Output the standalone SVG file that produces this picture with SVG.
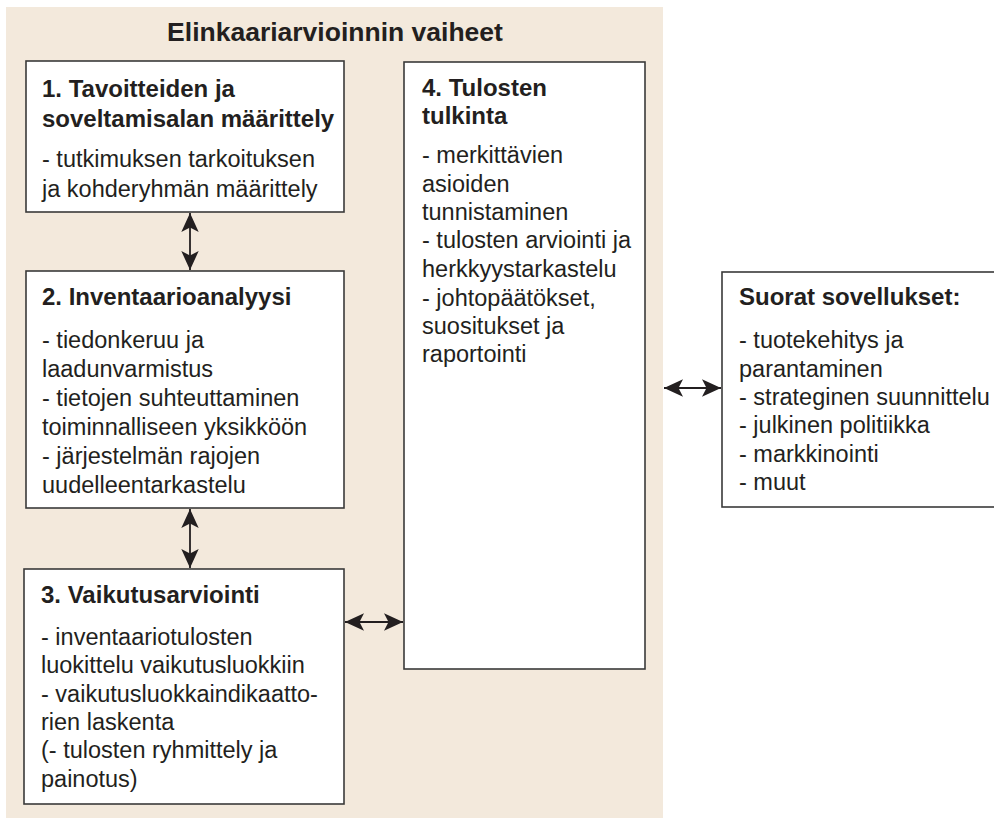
<svg xmlns="http://www.w3.org/2000/svg" width="994" height="818" viewBox="0 0 994 818">
  <defs>
    <marker id="ah" viewBox="-22 -11 24 22" markerWidth="24" markerHeight="22" refX="0" refY="0" orient="auto-start-reverse" markerUnits="userSpaceOnUse">
      <path d="M0,0 L-19,-8.7 L-14.5,0 L-19,8.7 Z" fill="#231f20"/>
    </marker>
  </defs>
  <style>
    .box { fill: #ffffff; stroke: #3a3a3a; stroke-width: 1.6; }
    .t { font-family: "Liberation Sans", Arial, sans-serif; fill: #231f20; }
    .h { font-weight: bold; font-size: 24px; }
    .b { font-size: 23.5px; }
    .conn { stroke: #231f20; stroke-width: 1.8; fill: none; marker-start: url(#ah); marker-end: url(#ah); }
  </style>
  <rect width="994" height="818" fill="#ffffff"/>
  <g id="frame">
    <rect x="6" y="7" width="657" height="811" fill="#f3e9dc"/>
    <text class="t" x="335" y="41" text-anchor="middle" font-weight="bold" font-size="26.5px">Elinkaariarvioinnin vaiheet</text>
  </g>
  <g id="node1">
    <rect class="box" x="26" y="61" width="318" height="151"/>
    <text class="t h" x="42" y="97">1. Tavoitteiden ja</text>
    <text class="t h" x="42" y="127">soveltamisalan määrittely</text>
    <text class="t b" x="42" y="167">- tutkimuksen tarkoituksen</text>
    <text class="t b" x="42" y="197">ja kohderyhmän määrittely</text>
  </g>
  <g id="node2">
    <rect class="box" x="26" y="271" width="318" height="237"/>
    <text class="t h" x="42" y="305">2. Inventaarioanalyysi</text>
    <text class="t b" x="42" y="348">- tiedonkeruu ja</text>
    <text class="t b" x="42" y="377">laadunvarmistus</text>
    <text class="t b" x="42" y="406">- tietojen suhteuttaminen</text>
    <text class="t b" x="42" y="435">toiminnalliseen yksikköön</text>
    <text class="t b" x="42" y="464">- järjestelmän rajojen</text>
    <text class="t b" x="42" y="493">uudelleentarkastelu</text>
  </g>
  <g id="node3">
    <rect class="box" x="24" y="569" width="320" height="235"/>
    <text class="t h" x="41" y="603">3. Vaikutusarviointi</text>
    <text class="t b" x="41" y="645">- inventaariotulosten</text>
    <text class="t b" x="41" y="673">luokittelu vaikutusluokkiin</text>
    <text class="t b" x="41" y="702">- vaikutusluokkaindikaatto-</text>
    <text class="t b" x="41" y="730">rien laskenta</text>
    <text class="t b" x="41" y="758">(- tulosten ryhmittely ja</text>
    <text class="t b" x="41" y="787">painotus)</text>
  </g>
  <g id="node4">
    <rect class="box" x="404" y="62" width="241" height="607"/>
    <text class="t h" x="422" y="96">4. Tulosten</text>
    <text class="t h" x="422" y="124">tulkinta</text>
    <text class="t b" x="422" y="163">- merkittävien</text>
    <text class="t b" x="422" y="192">asioiden</text>
    <text class="t b" x="422" y="220">tunnistaminen</text>
    <text class="t b" x="422" y="248">- tulosten arviointi ja</text>
    <text class="t b" x="422" y="277">herkkyystarkastelu</text>
    <text class="t b" x="422" y="306">- johtopäätökset,</text>
    <text class="t b" x="422" y="334">suositukset ja</text>
    <text class="t b" x="422" y="362">raportointi</text>
  </g>
  <g id="node5">
    <rect class="box" x="722" y="272" width="290" height="235"/>
    <text class="t h" x="739" y="305">Suorat sovellukset:</text>
    <text class="t b" x="739" y="348">- tuotekehitys ja</text>
    <text class="t b" x="739" y="377">parantaminen</text>
    <text class="t b" x="739" y="405">- strateginen suunnittelu</text>
    <text class="t b" x="739" y="433">- julkinen politiikka</text>
    <text class="t b" x="739" y="462">- markkinointi</text>
    <text class="t b" x="739" y="490">- muut</text>
  </g>
  <g id="connectors">
    <line class="conn" x1="190" y1="213" x2="190" y2="270"/>
    <line class="conn" x1="190" y1="509" x2="190" y2="568"/>
    <line class="conn" x1="345" y1="622" x2="403" y2="622"/>
    <line class="conn" x1="664" y1="388" x2="721" y2="388"/>
  </g>
</svg>
